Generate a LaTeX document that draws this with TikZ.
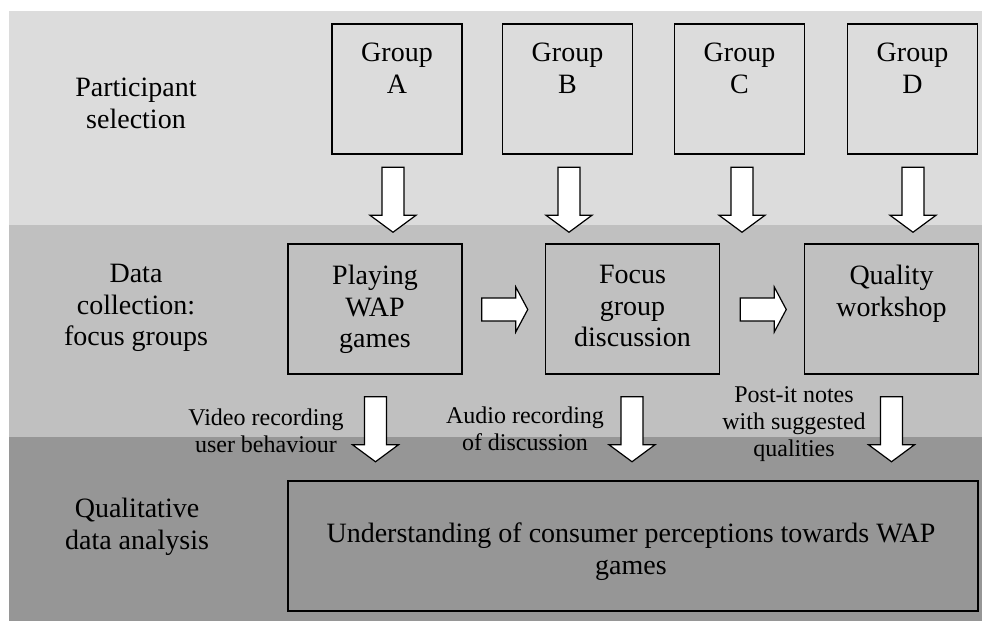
\documentclass[tikz,border=0pt]{standalone}
\usepackage{fontspec}
\setmainfont{Liberation Serif}
\usetikzlibrary{calc}
\definecolor{bandA}{RGB}{220,220,220}
\definecolor{bandB}{RGB}{192,192,192}
\definecolor{bandC}{RGB}{150,150,150}
\tikzset{
  frame/.style={draw=black, line width=1.5pt, inner sep=0pt},
  gbox/.style={frame, minimum width=130pt, minimum height=130pt},
  pbox/.style={frame, minimum width=174pt, minimum height=130pt},
  bigbox/.style={frame, minimum width=690pt, minimum height=130pt},
  mtext/.style={inner sep=0pt, align=center, anchor=north,
    font=\fontsize{28}{31.5}\selectfont},
  stext/.style={inner sep=0pt, align=center, anchor=north,
    font=\fontsize{24}{27}\selectfont},
  arrowline/.style={draw=black, fill=white, line width=1.2pt, line join=miter},
  downarr/.pic={\draw[arrowline] (-11,0) -- (11,0) -- (11,48) -- (23,48) -- (0,65) -- (-23,48) -- (-11,48) -- cycle;},
  rightarr/.pic={\draw[arrowline] (0,-11.5) -- (34,-11.5) -- (34,-22.5) -- (46,0) -- (34,22.5) -- (34,11.5) -- (0,11.5) -- cycle;}
}
\begin{document}
\begin{tikzpicture}[x=1pt,y=-1pt]
\useasboundingbox (0,0) rectangle (982,621);
% bands
\fill[white] (0,0) rectangle (982,621);
\fill[bandA] (9,11) rectangle (982,225);
\fill[bandB] (9,225) rectangle (982,437);
\fill[bandC] (9,437) rectangle (982,621);

% row labels
\node[mtext] (lpart) at (136,78) {Participant\\selection};
\node[mtext] (ldata) at (136,264) {Data\\collection:\\focus groups};
\node[mtext] (lqual) at (137,498) {Qualitative\\data analysis};

% group boxes
\node[gbox] (ga) at (397,89) {};
\node[gbox] (gb) at (567.5,89) {};
\node[gbox] (gc) at (739.5,89) {};
\node[gbox] (gd) at (912.5,89) {};
\node[mtext] (ga-t) at ($(ga.north)+(0,20)$) {Group\\A};
\node[mtext] (gb-t) at ($(gb.north)+(0,20)$) {Group\\B};
\node[mtext] (gc-t) at ($(gc.north)+(0,20)$) {Group\\C};
\node[mtext] (gd-t) at ($(gd.north)+(0,20)$) {Group\\D};

% process boxes
\node[pbox] (play) at (375,309) {};
\node[pbox] (focus) at (632.5,309) {};
\node[pbox] (qual) at (891.5,309) {};
\node[mtext] (play-t) at ($(play.north)+(0,22)$) {Playing\\WAP\\games};
\node[mtext] (focus-t) at ($(focus.north)+(0,22)$) {Focus\\group\\discussion};
\node[mtext] (qual-t) at ($(qual.north)+(0,22)$) {Quality\\workshop};

% result box
\node[bigbox] (und) at (633,546) {};
\node[mtext, font=\fontsize{28}{32}\selectfont] (und-t) at ($(und.north)+(-2,42)$)
  {Understanding of consumer perceptions towards WAP\\games};

% arrows group -> process row
\pic at ($(ga.south)+(-4,12.5)$) {downarr};
\pic at ($(gb.south)+(1.5,12.5)$) {downarr};
\pic at ($(gc.south)+(2.5,12.5)$) {downarr};
\pic at ($(gd.south)+(0.5,12.5)$) {downarr};

% arrows between process boxes
\pic at ($(play.east)+(19,0.5)$) {rightarr};
\pic at ($(focus.east)+(20,0.5)$) {rightarr};

% arrows process -> result
\pic at ($(play.south)+(0.5,22)$) {downarr};
\pic at ($(focus.south)+(-0.5,22)$) {downarr};
\pic at ($(qual.south)+(0,22)$) {downarr};

% arrow labels
\node[stext] (lvid) at (266,408.5) {Video recording\\user behaviour};
\node[stext] (laud) at (525,406.5) {Audio recording\\of discussion};
\node[stext] (lpost) at (794,386.5) {Post-it notes\\with suggested\\qualities};
\end{tikzpicture}
\end{document}
